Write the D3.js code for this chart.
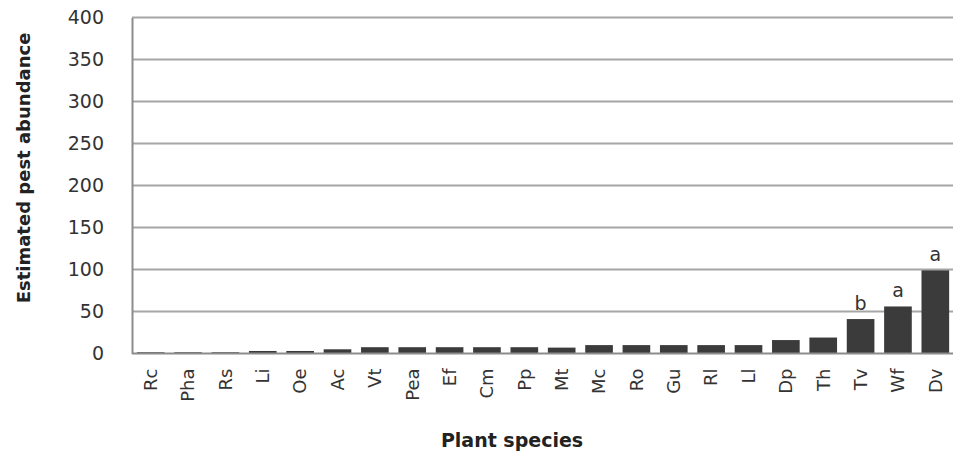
<!DOCTYPE html>
<html><head><meta charset="utf-8">
<script src="https://cdn.jsdelivr.net/npm/d3@7"></script>
<style>body{margin:0;background:#fff}svg{display:block}</style>
</head><body>
<svg id="c" width="953" height="458"></svg>
<script>
const categories = ["Rc","Pha","Rs","Li","Oe","Ac","Vt","Pea","Ef","Cm","Pp","Mt","Mc","Ro","Gu","Rl","Ll","Dp","Th","Tv","Wf","Dv"];
const values = [1.5,1.5,1.5,3,3,5,7.5,7.5,7.5,7.5,7.5,7,10,10,10,10,10,16,19,41,56,99];
const letters = ["","","","","","","","","","","","","","","","","","","","b","a","a"];
const yTicks = [0,50,100,150,200,250,300,350,400];

const svg = d3.select("#c");
const L = 132, R = 953, T = 17.5, B = 353.5;
const x = d3.scaleBand().domain(categories).range([L, R + 1]).paddingInner(0.26).paddingOuter(0.13);
const y = d3.scaleLinear().domain([0, 400]).range([B, T]);

// gridlines
svg.append("g").selectAll("line").data(yTicks.filter(d => d > 0)).join("line")
  .attr("x1", L).attr("x2", R).attr("y1", d => y(d)).attr("y2", d => y(d))
  .attr("stroke", "#a6a6a6").attr("stroke-width", 2);

// bars
svg.append("g").selectAll("rect").data(categories).join("rect")
  .attr("x", d => x(d)).attr("width", x.bandwidth())
  .attr("y", (d, i) => y(values[i])).attr("height", (d, i) => B - y(values[i]))
  .attr("fill", "#3b3b3b");

// axes
const yAxis = d3.axisLeft(y).tickValues(yTicks).tickSize(0).tickPadding(28);
const gy = svg.append("g").attr("transform", `translate(${L},0)`).call(yAxis);
gy.select(".domain").attr("stroke", "#8c8c8c").attr("stroke-width", 2);
gy.selectAll("text").attr("font-family", "DejaVu Sans").attr("font-size", 19).attr("fill", "#333");

const xAxis = d3.axisBottom(x).tickSize(0).tickPadding(10);
const gx = svg.append("g").attr("transform", `translate(0,${B})`).call(xAxis);
gx.select(".domain").attr("stroke", "#8c8c8c").attr("stroke-width", 2).attr("d", `M${L},0H${R}`);
gx.selectAll("text").attr("font-family", "DejaVu Sans").attr("font-size", 18).attr("fill", "#333")
  .attr("transform", "rotate(-90)").attr("text-anchor", "end").attr("dy", "0.35em")
  .attr("x", -15).attr("y", 0);

// letters
svg.append("g").selectAll("text").data(categories).join("text")
  .attr("x", d => x(d) + x.bandwidth() / 2)
  .attr("y", (d, i) => y(values[i]) - 9)
  .attr("text-anchor", "middle").attr("font-family", "DejaVu Sans").attr("font-size", 19).attr("fill", "#333")
  .text((d, i) => letters[i]);

// titles
svg.append("text").attr("transform", `translate(30,168) rotate(-90)`)
  .attr("text-anchor", "middle").attr("font-family", "DejaVu Sans").attr("font-weight", "bold")
  .attr("font-size", 18).attr("fill", "#222").text("Estimated pest abundance");
svg.append("text").attr("x", 512).attr("y", 447)
  .attr("text-anchor", "middle").attr("font-family", "DejaVu Sans").attr("font-weight", "bold")
  .attr("font-size", 19).attr("fill", "#222").text("Plant species");
</script>
</body></html>
